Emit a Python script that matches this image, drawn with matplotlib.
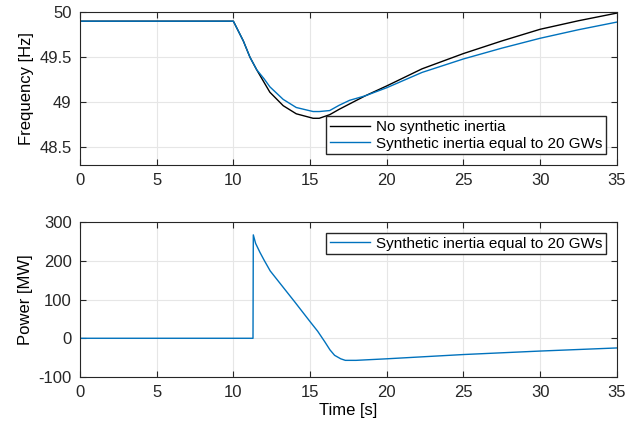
import matplotlib
matplotlib.use("Agg")
import matplotlib.pyplot as plt

plt.rcParams['font.family'] = ['Liberation Sans', 'DejaVu Sans']
plt.rcParams['axes.unicode_minus'] = False

# frequency response after the disturbance at t = 10 s
t_f = [0, 10, 10.65, 11.08, 11.52, 12, 12.38, 13.25, 14.1, 15.2, 15.6, 16.28, 16.9,
       17.58, 18.6, 20, 22.3, 25, 27.5, 30, 32.5, 35]
f_none = [49.9, 49.9, 49.68, 49.5, 49.36, 49.22, 49.11, 48.96, 48.87, 48.82, 48.82, 48.86,
          48.92, 48.98, 49.07, 49.18, 49.37, 49.54, 49.68, 49.81, 49.905, 49.99]
f_si = [49.9, 49.9, 49.68, 49.5, 49.36, 49.26, 49.17, 49.03, 48.94, 48.895, 48.895, 48.906,
        48.965, 49.02, 49.07, 49.16, 49.33, 49.48, 49.60, 49.71, 49.805, 49.89]

# power delivered by the synthetic inertia
t_p = [0, 11.28, 11.3, 11.45, 11.73, 12, 12.4, 13, 14, 15, 15.5, 15.96, 16.3, 16.6, 17,
       17.3, 18, 20, 25, 30, 35]
p_si = [0, 0, 267, 245, 222, 202, 174, 144, 94, 43, 18, -9, -30, -44, -53, -57, -57, -53,
        -42, -33, -25]

xticks = [0, 5, 10, 15, 20, 25, 30, 35]
blue = '#0072BD'
axcol = '#262626'

fig = plt.figure(figsize=(6.3, 4.21), dpi=100)
ax1 = fig.add_axes([0.127, 0.608, 0.852, 0.363])
ax2 = fig.add_axes([0.127, 0.1045, 0.852, 0.368])

ax1.plot(t_f, f_none, color='black', lw=1.0, label='No synthetic inertia')
ax1.plot(t_f, f_si, color=blue, lw=1.0, label='Synthetic inertia equal to 20 GWs')
ax1.set_xlim(0, 35)
ax1.set_ylim(48.3, 50)
ax1.set_yticks([48.5, 49, 49.5, 50])
ax1.set_yticklabels(['48.5', '49', '49.5', '50'])
ax1.set_ylabel('Frequency [Hz]', fontsize=12)
ax1.legend(loc='lower right', fontsize=11, fancybox=False, edgecolor=axcol, framealpha=1,
           borderpad=0.25, handlelength=2.6, handletextpad=0.4, labelspacing=0.15,
           borderaxespad=0.7)

ax2.plot(t_p, p_si, color=blue, lw=1.0, label='Synthetic inertia equal to 20 GWs')
ax2.set_xlim(0, 35)
ax2.set_ylim(-100, 300)
ax2.set_yticks([-100, 0, 100, 200, 300])
ax2.set_ylabel('Power [MW]', fontsize=12)
ax2.set_xlabel('Time [s]', fontsize=12, labelpad=2)
ax2.legend(loc='upper right', fontsize=11, fancybox=False, edgecolor=axcol, framealpha=1,
           borderpad=0.25, handlelength=2.6, handletextpad=0.4, borderaxespad=0.7)

for ax in (ax1, ax2):
    ax.set_xticks(xticks)
    ax.grid(True, color='#e6e6e6', lw=0.8)
    ax.set_axisbelow(True)
    ax.tick_params(direction='in', top=True, right=True, length=4, labelsize=12, pad=6,
                   color=axcol, labelcolor=axcol)
    for s in ax.spines.values():
        s.set_color(axcol)
        s.set_linewidth(0.8)

fig.savefig('out.png', dpi=100)
